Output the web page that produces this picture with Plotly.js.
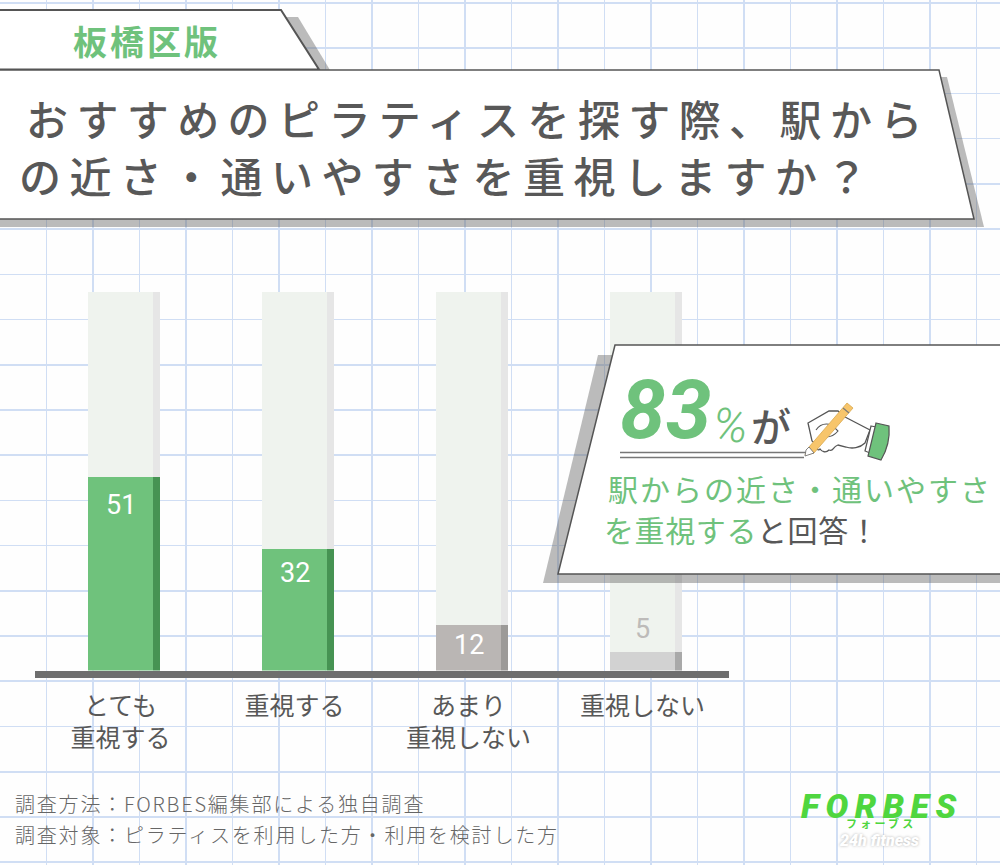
<!DOCTYPE html>
<html lang="ja">
<head>
<meta charset="utf-8">
<script src="https://cdn.plot.ly/plotly-3.0.1.min.js"></script>
<style>
html,body{margin:0;padding:0;background:#fefefe;}
#chart{width:1000px;height:865px;}
.xtick text{letter-spacing:1px;}
</style>
</head>
<body>
<div id="chart"></div>
<script>
// ---- data ----
const categories = ["とても<br>重視する", "重視する", "あまり<br>重視しない", "重視しない"];
const percentValues = [51, 32, 12, 5];
const fullScale = [100, 100, 100, 100];
const barColors = ["#6FC27C", "#6FC27C", "#BAB6B4", "#D2D2D2"];
const sideColors = ["#469353", "#469353", "#9C9A98", "#A9A9A9"];
const labelColors = ["#FFFFFF", "#FFFFFF", "#FFFFFF", "#BDBBB9"];
const labelShifts = [-28, -24, -20, 23];

const titleLines = ["おすすめのピラティスを探す際、駅から", "の近さ・通いやすさを重視しますか？"];
const tabLabel = "板橋区版";
const calloutNumber = "83";
const calloutLine1 = "駅からの近さ・通いやすさ";
const calloutLine2a = "を重視する";
const calloutLine2b = "と回答！";
const footnotes = ["調査方法：FORBES編集部による独自調査", "調査対象：ピラティスを利用した方・利用を検討した方"];

// ---- styles ----
const JP = '"Noto Sans CJK JP","Noto Sans",sans-serif';
const GREEN = "#6FC27C", INK = "#585858", EDGE = "#555555";
const SHADOW = "rgba(95,95,95,0.42)";
const face = 65 / 174, side = 7 / 174;

function sp(text, px) { return '<span style="letter-spacing:' + px + 'px">' + text + '</span>'; }
function txt(x, y, text, size, color, extra) {
  return Object.assign({xref: "x", yref: "y", x: x, y: y, text: text, showarrow: false,
    xanchor: "left", yanchor: "middle", borderpad: 0, font: {family: JP, size: size, color: color}}, extra || {});
}
function poly(path, fill, line, w) {
  return {type: "path", xref: "x", yref: "y", layer: "above", path: path, fillcolor: fill,
    line: {color: line || "rgba(0,0,0,0)", width: w === undefined ? 0 : w}};
}

const traces = [
  {type: "bar", xaxis: "x2", yaxis: "y2", x: categories, y: fullScale, width: face, offset: -face / 2,
   marker: {color: "#EFF3EE"}, hoverinfo: "skip", showlegend: false},
  {type: "bar", xaxis: "x2", yaxis: "y2", x: categories, y: fullScale, width: side, offset: face / 2,
   marker: {color: "#E6E6E6"}, hoverinfo: "skip", showlegend: false},
  {type: "bar", xaxis: "x2", yaxis: "y2", x: categories, y: percentValues, width: face, offset: -face / 2,
   marker: {color: barColors}, showlegend: false},
  {type: "bar", xaxis: "x2", yaxis: "y2", x: categories, y: percentValues, width: side, offset: face / 2,
   marker: {color: sideColors}, showlegend: false}
];

const shapes = [
  // tab
  poly("M0,17 L298,17 L330,70 L0,70 Z", SHADOW),
  poly("M-5,10 L281,10 L319,69.5 L-5,69.5 Z", "#FFFFFF", EDGE, 2),
  // header panel
  poly("M0,77 L947,77 L984,227 L0,227 Z", SHADOW),
  poly("M-5,70 L939,70 L974,219 L-5,219 Z", "#FFFFFF", EDGE, 1.5),
  // callout
  poly("M598,355 L1005,355 L1005,583 L543,583 Z", SHADOW),
  poly("M615,345 L1005,345 L1005,574 L558,574 Z", "#FFFFFF", EDGE, 1.5),
  // double underline
  poly("M620,452.5 L806,452.5", "rgba(0,0,0,0)", "#777777", 1.5),
  poly("M620,457.5 L804,457.5", "rgba(0,0,0,0)", "#777777", 1.5),
  // hand
  poly("M845,417 L870,430 L865,443 C860,448 852,449 846,447 L838,445 C832,447 834,452 829,450 C826,453 822,452 820,449 C818,452 816,447 817,445 L812,441 L808,423 L829,411 L838,411 Z", "#FFFFFF", "#555555", 1.3),
  poly("M816,430 C820,424 826,423 832,425 L838,431 C834,436 830,437 826,437", "rgba(0,0,0,0)", "#555555", 1.1),
  // pencil
  poly("M809,447 L847,403 L853,408 L814,453 L805,455 Z", "#F7C56B", "#D9A84E", 0.8),
  poly("M806,450 L809,447 L814,453 L805,456 Z", "#FFFFFF", "#666666", 0.8),
  poly("M843,408 L849,413", "rgba(0,0,0,0)", "#7A7A7A", 1.2),
  // cuff
  poly("M871,426 L876,427 L870,453 L865,451 Z", "#FFFFFF", "#555555", 1.2),
  poly("M876,423 L889,426 C890,438 887,450 881,460 L868,456 Z", GREEN, "#555555", 1.2)
];

const annotations = [
  txt(72, 40, sp(tabLabel, 3), 34, GREEN, {font: {family: JP, size: 34, color: GREEN, weight: 700}}),
  txt(25, 117, sp(titleLines[0], 8.4), 42, INK, {font: {family: JP, size: 42, color: INK, weight: 500}}),
  txt(18, 174, sp(titleLines[1], 8.4), 42, INK, {font: {family: JP, size: 42, color: INK, weight: 500}}),
  txt(619, 410, calloutNumber, 82, GREEN, {font: {family: "Roboto", size: 82, color: GREEN, weight: 700, style: "italic"}}),
  txt(712, 425, "%", 48, GREEN, {font: {family: "Roboto", size: 48, color: GREEN, weight: 300, style: "italic"}}),
  txt(750, 425, "が", 40, INK, {font: {family: JP, size: 40, color: INK, weight: 500}}),
  txt(607, 488, sp(calloutLine1, 2), 30, GREEN, {font: {family: JP, size: 30, color: GREEN}}),
  txt(603, 529, sp(calloutLine2a, 0.6) + sp(calloutLine2b, 0.6).replace('">', ';fill:' + INK + '">'), 30, GREEN,
      {font: {family: JP, size: 30, color: GREEN}}),
  txt(14, 803, sp(footnotes[0], 1.8), 20, "#666666", {font: {family: JP, size: 20, color: "#666666", weight: 300}}),
  txt(14, 834, sp(footnotes[1], 1.8), 20, "#666666", {font: {family: JP, size: 20, color: "#666666", weight: 300}}),
  txt(800, 806, sp("FORBES", 6.5), 34, "#4FD63F", {font: {family: "Roboto", size: 34, color: "#4FD63F", weight: 900, style: "italic"}}),
  txt(845, 823, sp("フォーブス", 3.2), 11, "#4FD63F", {font: {family: JP, size: 11, color: "#4FD63F", weight: 700}}),
  txt(838, 840, "24h fitness", 16, "#FFFFFF", {font: {family: "Roboto", size: 16, color: "#FFFFFF", weight: 900, style: "italic", shadow: "0 0 3px #b5b5b5"}})
];

// value labels follow the bar scale
percentValues.forEach(function (v, i) {
  annotations.push({xref: "x2", yref: "y2", x: categories[i], y: v, yshift: labelShifts[i],
    text: String(v), showarrow: false, xanchor: "center", yanchor: "middle",
    font: {family: "Roboto", size: 27, color: labelColors[i], weight: 400}});
});

const layout = {
  width: 1000, height: 865, margin: {l: 0, r: 0, t: 0, b: 0},
  paper_bgcolor: "#fefefe", plot_bgcolor: "rgba(0,0,0,0)",
  barmode: "overlay", bargap: 0, showlegend: false, hovermode: false,
  // notebook grid: page-sized axes
  xaxis: {domain: [0, 1], range: [0, 1000], tick0: 0, dtick: 46.5, showgrid: true,
          gridcolor: "#D0DEF4", gridwidth: 1.6, zeroline: false, showticklabels: false, ticks: "", showline: false},
  yaxis: {domain: [0, 1], range: [865, 0], tick0: 3, dtick: 45.22, showgrid: true,
          gridcolor: "#D0DEF4", gridwidth: 1.6, zeroline: false, showticklabels: false, ticks: "", showline: false},
  // chart axes
  xaxis2: {anchor: "y2", domain: [0.035, 0.729], type: "category", categoryorder: "array", categoryarray: categories,
           range: [(35 - 120.5) / 174, (729 - 120.5) / 174], showgrid: false, zeroline: false,
           showline: true, linecolor: "#6E6E6E", linewidth: 7, ticks: "outside", ticklen: 7, tickcolor: "rgba(0,0,0,0)",
           tickfont: {family: JP, size: 25, color: INK}, tickangle: 0, automargin: false},
  yaxis2: {anchor: "x2", domain: [1 - 670.5 / 865, 1 - 292 / 865], range: [0, 100], visible: false},
  shapes: shapes, annotations: annotations
};

Plotly.newPlot("chart", traces, layout, {displayModeBar: false, staticPlot: true});
</script>
</body>
</html>
